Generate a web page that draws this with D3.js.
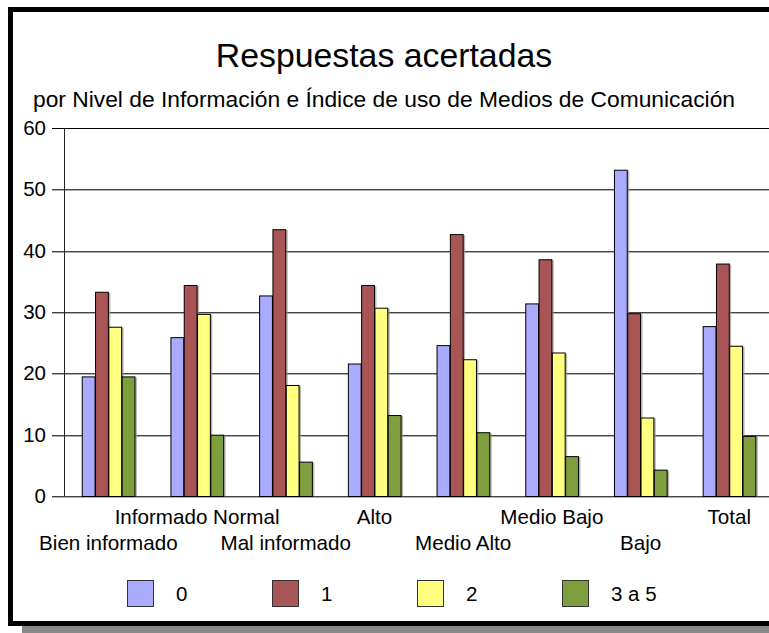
<!DOCTYPE html>
<html><head><meta charset="utf-8">
<script src="https://cdn.jsdelivr.net/npm/d3@7"></script>
<style>body{margin:0;background:#fff}svg{display:block}text{font-family:"Liberation Sans",Arial,sans-serif;fill:#000}</style>
</head><body><svg id="c" width="769" height="633"></svg>
<script>
const categories = ["Bien informado","Informado Normal","Mal informado","Alto","Medio Alto","Medio Bajo","Bajo","Total"];
const seriesNames = ["0","1","2","3 a 5"];
const s0 = [19.5, 25.9, 32.7, 21.6, 24.6, 31.4, 53.2, 27.7];
const s1 = [33.3, 34.4, 43.5, 34.4, 42.7, 38.6, 29.8, 37.9];
const s2 = [27.6, 29.7, 18.1, 30.7, 22.3, 23.4, 12.8, 24.5];
const s3 = [19.5, 10.0, 5.6, 13.2, 10.4, 6.5, 4.3, 9.8];
const yTicks = [0,10,20,30,40,50,60];
const colors = ["#aaaaff","#aa5555","#ffff80","#7f9f3f"];
const series = [s0,s1,s2,s3];

(function(){
const svg = d3.select("#c");
// frame shadow + frame
svg.append("rect").attr("x",22).attr("y",16).attr("width",800).attr("height",620).attr("fill","#888");
svg.append("rect").attr("x",10.5).attr("y",9.5).attr("width",800).attr("height",614).attr("fill","#fff").attr("stroke","#000").attr("stroke-width",5);

svg.append("text").attr("x",384).attr("y",67).attr("text-anchor","middle").style("font-size","33.8px").text("Respuestas acertadas");
svg.append("text").attr("x",384).attr("y",107).attr("text-anchor","middle").style("font-size","22.8px").text("por Nivel de Información e Índice de uso de Medios de Comunicación");

const pLeft = 64, pBottom = 496, pTop = 128;
const y = d3.scaleLinear().domain([0,60]).range([pBottom, pTop]);
const x0 = d3.scaleBand().domain(categories).range([pLeft, pLeft + 8*88.7]).paddingInner(0.4).paddingOuter(0.2);
const x1 = d3.scaleBand().domain(seriesNames).range([0, x0.bandwidth()]);

// gridlines
const g = svg.append("g");
yTicks.forEach(t => {
  const yy = Math.round(y(t)) + 0.5;
  if (t === 60) {
    g.append("line").attr("x1",52).attr("x2",769).attr("y1",yy).attr("y2",yy).attr("stroke","#000");
  } else {
    g.append("line").attr("x1",52).attr("x2",769).attr("y1",yy+1).attr("y2",yy+1).attr("stroke","#b0b0b0");
    g.append("line").attr("x1",52).attr("x2",769).attr("y1",yy).attr("y2",yy).attr("stroke","#444");
  }
  g.append("text").attr("x",46).attr("y",y(t)+7).attr("text-anchor","end").style("font-size","20.5px").text(t);
});
// y axis line
g.append("line").attr("x1",pLeft+0.5).attr("x2",pLeft+0.5).attr("y1",pTop).attr("y2",pBottom).attr("stroke","#222");

// bars
const bars = svg.append("g");
categories.forEach((c, i) => {
  series.forEach((s, j) => {
    const bx = x0(c) + x1(seriesNames[j]);
    const by = y(s[i]);
    bars.append("rect").attr("x", bx + 2).attr("y", by + 1).attr("width", x1.bandwidth()).attr("height", pBottom - by - 1).attr("fill", "#999").attr("opacity", 0.7);
  });
  series.forEach((s, j) => {
    const bx = x0(c) + x1(seriesNames[j]);
    const by = y(s[i]);
    bars.append("rect").attr("x", bx + 0.5).attr("y", by + 0.5).attr("width", x1.bandwidth() - 0.5).attr("height", pBottom - by).attr("fill", colors[j]).attr("stroke", "#000").attr("stroke-width", 1);
  });
});

// category labels staggered
categories.forEach((c, i) => {
  svg.append("text").attr("x", x0(c) + x0.bandwidth()/2).attr("y", i % 2 === 1 ? 524 : 550)
    .attr("text-anchor","middle").style("font-size","20.6px").text(c);
});

// legend
const legX = [127, 272, 417, 562];
seriesNames.forEach((n, j) => {
  svg.append("rect").attr("x", legX[j]+0.5).attr("y", 580.5).attr("width", 26).attr("height", 26).attr("fill", colors[j]).attr("stroke", "#333");
  svg.append("text").attr("x", legX[j] + 49).attr("y", 601).style("font-size","20.5px").text(n);
});
})();
</script></body></html>
